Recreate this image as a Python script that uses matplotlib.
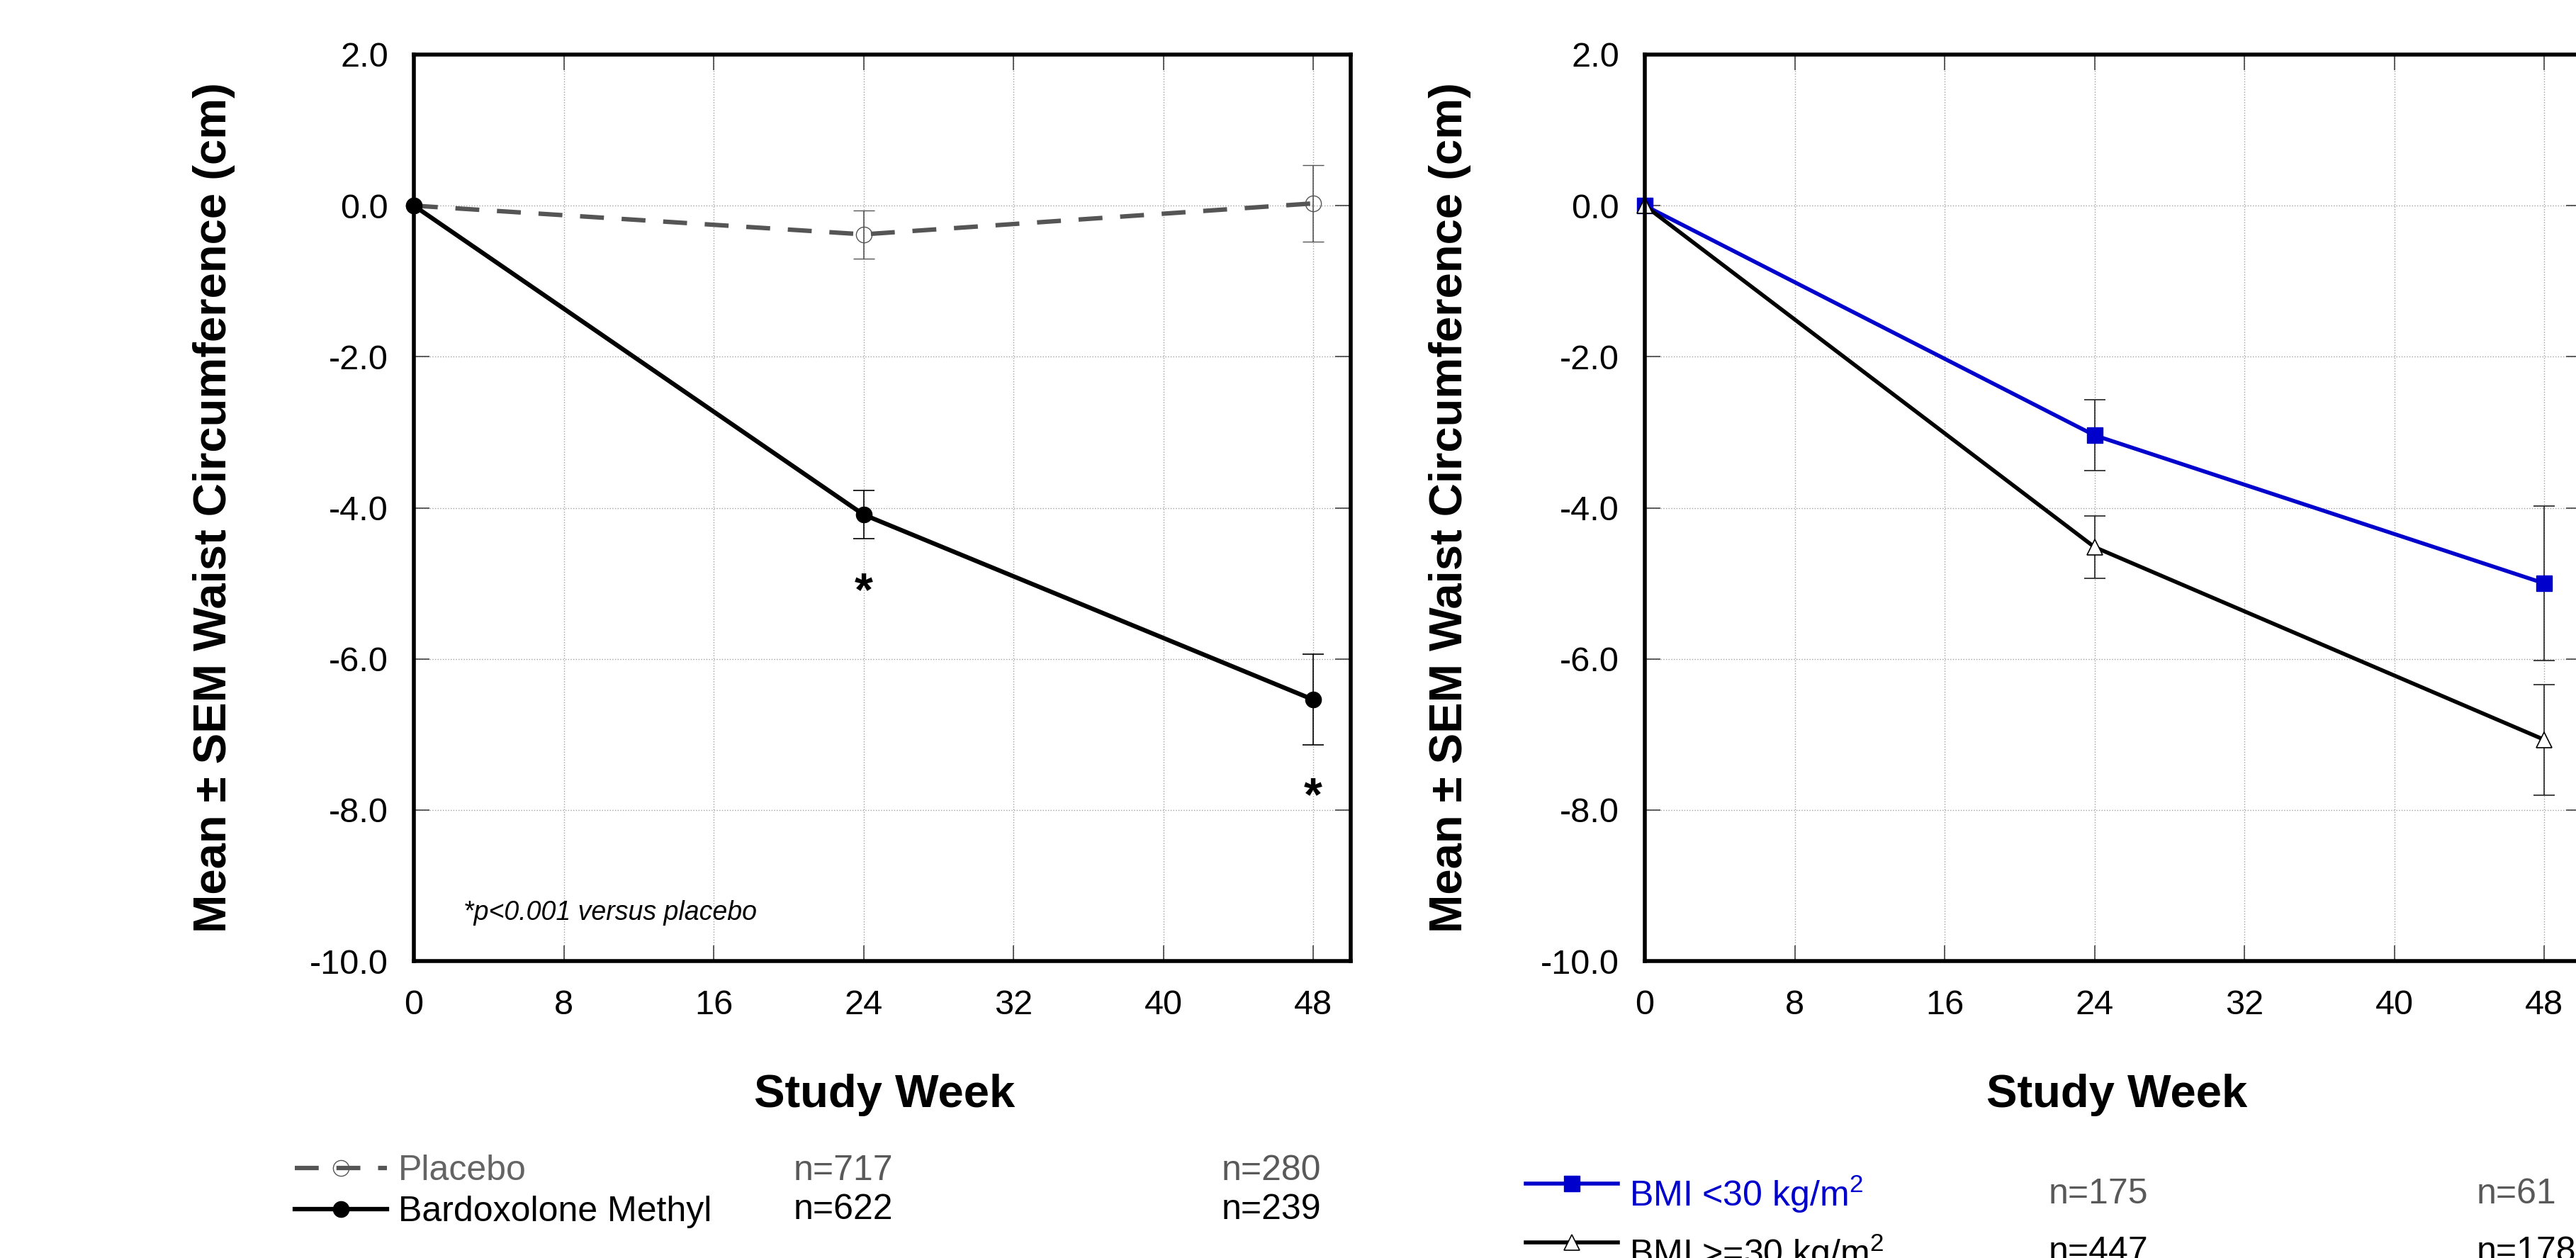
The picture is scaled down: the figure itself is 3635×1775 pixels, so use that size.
import matplotlib
matplotlib.use("Agg")
import matplotlib.pyplot as plt
import numpy as np
from matplotlib.ticker import FormatStrFormatter

plt.rcParams['font.family'] = ['Liberation Sans', 'DejaVu Sans']
plt.rcParams['mathtext.default'] = 'regular'
plt.rcParams['axes.unicode_minus'] = False

W, H = 3635, 1775

# data (cm change from baseline, mean and SEM)
weeks = [0, 24, 48]
placebo_mean = [0.0, -0.38, 0.03]
placebo_sem = [0.0, 0.32, 0.51]
bard_mean = [0.0, -4.09, -6.54]
bard_sem = [0.0, 0.32, 0.60]
star_weeks = [24, 48]
star_y = [-4.93, -7.64]

bmi_lo_mean = [0.0, -3.04, -5.00]
bmi_lo_sem = [0.0, 0.47, 1.02]
bmi_hi_mean = [0.0, -4.52, -7.07]
bmi_hi_sem = [0.0, 0.41, 0.73]

left_labels = ['Placebo', 'Bardoxolone Methyl']
left_n = [['n=717', 'n=280'], ['n=622', 'n=239']]
right_labels = ['BMI <30 kg/m$^2$', 'BMI >=30 kg/m$^2$']
right_n = [['n=175', 'n=61'], ['n=447', 'n=178']]

xticks = np.arange(0, 49, 8)
yticks = np.arange(-10, 2.1, 2)
ylabel = 'Mean \u00b1 SEM Waist Circumference (cm)'
xlabel = 'Study Week'
footnote = '*p<0.001 versus placebo'

GRAY = '#555555'
BLUE = '#0000cc'


def setup(ax):
    ax.set_xlim(0, 50)
    ax.set_ylim(-10, 2)
    ax.set_xticks(xticks)
    ax.set_yticks(yticks)
    ax.yaxis.set_major_formatter(FormatStrFormatter('%.1f'))
    ax.grid(True, color='#a0a0a0', linestyle=':', linewidth=1.0)
    ax.set_axisbelow(True)
    for s in ax.spines.values():
        s.set_linewidth(4)
    ax.tick_params(direction='in', length=16, width=1.2, color='#444444',
                   top=True, right=True, labelsize=35)
    ax.tick_params(axis='x', pad=29)
    ax.tick_params(axis='y', pad=26)


fig = plt.figure(figsize=(W / 100, H / 100), dpi=100)
ax1 = fig.add_axes([584 / W, 1 - 1356 / H, 1322 / W, 1279 / H])
ax2 = fig.add_axes([2321 / W, 1 - 1356 / H, 1322 / W, 1279 / H])
setup(ax1)
setup(ax2)

# left panel
eb_p = ax1.errorbar(weeks, placebo_mean, yerr=placebo_sem, color=GRAY, lw=4.5,
                    dashes=(5.4, 4), marker='o', ms=16, mfc='none', mec=GRAY,
                    mew=1.0, ecolor=GRAY, elinewidth=1.2, capsize=11,
                    capthick=1.2, errorevery=(1, 1), clip_on=False)
eb_b = ax1.errorbar(weeks, bard_mean, yerr=bard_sem, color='black', lw=4.5,
                    marker='o', ms=16, ecolor='black', elinewidth=1.2,
                    capsize=11, capthick=1.2, errorevery=(1, 1), clip_on=False)
for w, y in zip(star_weeks, star_y):
    ax1.annotate('*', (w, y), xytext=(0, -28), textcoords='offset points',
                 ha='center', va='baseline', fontsize=48, fontweight='bold')
ax1.text(2.64, -9.36, footnote, style='italic', fontsize=27, va='center')

# right panel
eb_lo = ax2.errorbar(weeks, bmi_lo_mean, yerr=bmi_lo_sem, color=BLUE, lw=4,
                     marker='s', ms=16, ecolor='#222222', elinewidth=1.2,
                     capsize=11, capthick=1.2, errorevery=(1, 1), clip_on=False)
eb_hi = ax2.errorbar(weeks, bmi_hi_mean, yerr=bmi_hi_sem, color='black', lw=4,
                     marker='^', ms=16, mfc='white', mec='black', mew=1.2,
                     ecolor='#222222', elinewidth=1.2, capsize=11, capthick=1.2,
                     errorevery=(1, 1), clip_on=False)

# axis titles
for cx in [302, 2046]:
    fig.text(cx / W, 1 - 716.5 / H, ylabel, rotation=90, ha='center',
             va='center', fontsize=47, fontweight='bold')
for cx in [1248, 2987]:
    fig.text(cx / W, 1 - 1562 / H, xlabel, ha='center', va='baseline',
             fontsize=47, fontweight='bold')

# legends
ax1.legend([eb_p.lines[0], eb_b.lines[0]], left_labels, loc='upper left',
           bbox_to_anchor=(416 / W, 1 - 1629 / H), bbox_transform=fig.transFigure,
           frameon=False, fontsize=36, handlelength=2.6, handletextpad=0.32,
           labelspacing=0.24, borderpad=0, borderaxespad=0, numpoints=1,
           labelcolor=['#646464', 'black'])
ax2.legend([eb_lo.lines[0], eb_hi.lines[0]], right_labels, loc='upper left',
           bbox_to_anchor=(2153 / W, 1 - 1638 / H), bbox_transform=fig.transFigure,
           frameon=False, fontsize=36, handlelength=2.6, handletextpad=0.32,
           handleheight=2.63, labelspacing=-0.3, borderpad=0, borderaxespad=0,
           numpoints=1, labelcolor=[BLUE, 'black'])

# patient counts under the legends
n_colors = ['#595959', 'black']
for row, base in enumerate([1665, 1720]):
    for col, x in enumerate([1120, 1724]):
        fig.text(x / W, 1 - base / H, left_n[row][col], fontsize=36,
                 va='baseline', color=n_colors[row])
for row, base in enumerate([1698, 1780]):
    for col, x in enumerate([2891, 3495]):
        fig.text(x / W, 1 - base / H, right_n[row][col], fontsize=36,
                 va='baseline', color=n_colors[row])

fig.savefig('out.png', dpi=100)
